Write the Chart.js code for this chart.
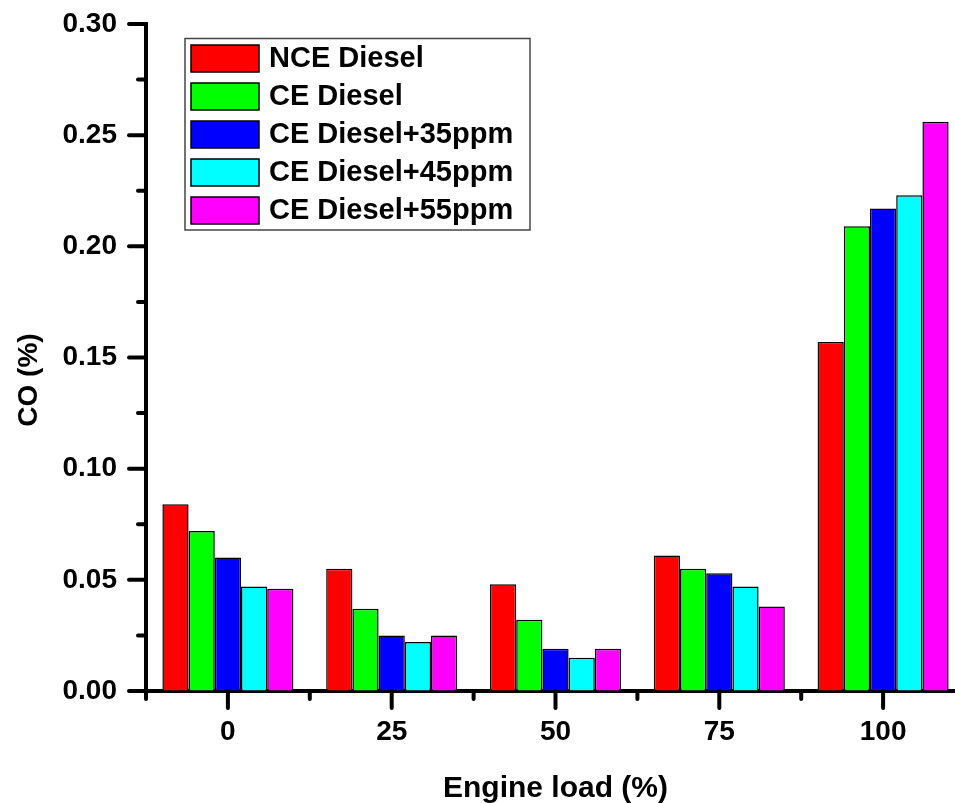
<!DOCTYPE html>
<html>
<head>
<meta charset="utf-8">
<title>CO vs Engine load</title>
<script src="https://cdn.jsdelivr.net/npm/chart.js@4.4.1/dist/chart.umd.min.js"></script>
<style>
    html, body { margin: 0; padding: 0; overflow: hidden; background: #fff; }
    #wrap { width: 975px; height: 803px; }
</style>
</head>
<body>
<div id="wrap"><canvas id="coChart" width="975" height="803"></canvas></div>
<script>
// Data
const engineLoads = ['0', '25', '50', '75', '100'];
const seriesNames = ['NCE Diesel', 'CE Diesel', 'CE Diesel+35ppm', 'CE Diesel+45ppm', 'CE Diesel+55ppm'];
const nceDiesel = [0.084, 0.055, 0.048, 0.061, 0.157];
const ceDiesel = [0.072, 0.037, 0.032, 0.055, 0.209];
const ceDiesel35 = [0.060, 0.025, 0.019, 0.053, 0.217];
const ceDiesel45 = [0.047, 0.022, 0.015, 0.047, 0.223];
const ceDiesel55 = [0.046, 0.025, 0.019, 0.038, 0.256];
const seriesColors = ['#ff0000', '#00ff00', '#0000ff', '#00ffff', '#ff00ff'];

const FONT = '"Liberation Sans", Arial, sans-serif';

// draws tick marks (major + minor), the y title and the boxed legend
const decorPlugin = {
    id: 'decor',
    afterDraw: function (chart) {
        const ctx = chart.ctx;
        const x = chart.scales.x;
        const y = chart.scales.y;
        const area = chart.chartArea;
        ctx.save();
        ctx.strokeStyle = '#000';
        ctx.lineWidth = 4;
        ctx.lineCap = 'round';

        // y ticks every 0.025, long ones on 0.05
        for (let i = 0; i <= 12; i++) {
            const py = y.getPixelForValue(i * 0.025);
            const len = i % 2 === 0 ? 17 : 8;
            ctx.beginPath();
            ctx.moveTo(area.left, py);
            ctx.lineTo(area.left - len, py);
            ctx.stroke();
        }

        // x ticks: long at category centres, short between categories
        const step = x.getPixelForTick(1) - x.getPixelForTick(0);
        for (let i = 0; i < engineLoads.length; i++) {
            const cx = x.getPixelForTick(i);
            ctx.beginPath();
            ctx.moveTo(cx, area.bottom);
            ctx.lineTo(cx, area.bottom + 17);
            ctx.stroke();
            const bx = cx - step / 2;
            ctx.beginPath();
            ctx.moveTo(bx, area.bottom);
            ctx.lineTo(bx, area.bottom + 8);
            ctx.stroke();
        }

        // y axis title
        ctx.fillStyle = '#000';
        ctx.font = 'bold 28px ' + FONT;
        ctx.textAlign = 'center';
        ctx.textBaseline = 'middle';
        ctx.translate(29, 380);
        ctx.rotate(-Math.PI / 2);
        ctx.fillText('CO (%)', 0, 0);
        ctx.setTransform(1, 0, 0, 1, 0, 0);

        // legend box
        ctx.lineWidth = 1.5;
        ctx.lineCap = 'butt';
        ctx.strokeStyle = '#444';
        ctx.strokeRect(185, 38.5, 345, 191.5);
        ctx.font = 'bold 29px ' + FONT;
        ctx.textAlign = 'left';
        chart.data.datasets.forEach(function (ds, i) {
            const top = 45 + 38 * i;
            ctx.fillStyle = ds.backgroundColor;
            ctx.fillRect(191, top, 68, 27);
            ctx.strokeStyle = '#000';
            ctx.strokeRect(191, top, 68, 27);
            ctx.fillStyle = '#000';
            ctx.fillText(ds.label, 269, top + 14);
        });
        ctx.restore();
    }
};

document.addEventListener('DOMContentLoaded', function () {
    const ctx = document.getElementById('coChart').getContext('2d');
    const values = [nceDiesel, ceDiesel, ceDiesel35, ceDiesel45, ceDiesel55];

    new Chart(ctx, {
        type: 'bar',
        data: {
            labels: engineLoads,
            datasets: values.map(function (v, i) {
                return {
                    label: seriesNames[i],
                    data: v,
                    backgroundColor: seriesColors[i],
                    borderColor: '#000',
                    borderWidth: 1.5,
                    categoryPercentage: 0.8,
                    barPercentage: 1.0
                };
            })
        },
        options: {
            responsive: false,
            animation: false,
            layout: {
                padding: { top: 24, right: 10, left: 0, bottom: 0 }
            },
            scales: {
                x: {
                    grid: { display: false, drawTicks: false },
                    border: { display: true, color: '#000', width: 4 },
                    ticks: {
                        color: '#000',
                        padding: 24,
                        font: { family: FONT, size: 28, weight: 'bold' }
                    },
                    title: {
                        display: true,
                        text: 'Engine load (%)',
                        color: '#000',
                        padding: { top: 0, bottom: -4 },
                        font: { family: FONT, size: 30, weight: 'bold' }
                    },
                    afterFit: function (scale) { scale.height = 112; }
                },
                y: {
                    min: 0,
                    max: 0.3,
                    // invisible tick space keeps labels off the axis without extra top padding
                    grid: {
                        display: true,
                        drawOnChartArea: false,
                        drawTicks: true,
                        tickLength: 29,
                        color: 'rgba(0,0,0,0)'
                    },
                    border: { display: true, color: '#000', width: 4 },
                    ticks: {
                        stepSize: 0.05,
                        color: '#000',
                        padding: 0,
                        font: { family: FONT, size: 28, weight: 'bold' },
                        callback: function (v) { return v.toFixed(2); }
                    },
                    afterFit: function (scale) { scale.width = 146; }
                }
            },
            plugins: {
                legend: { display: false },
                tooltip: { enabled: false }
            }
        },
        plugins: [decorPlugin]
    });
});
</script>
</body>
</html>
